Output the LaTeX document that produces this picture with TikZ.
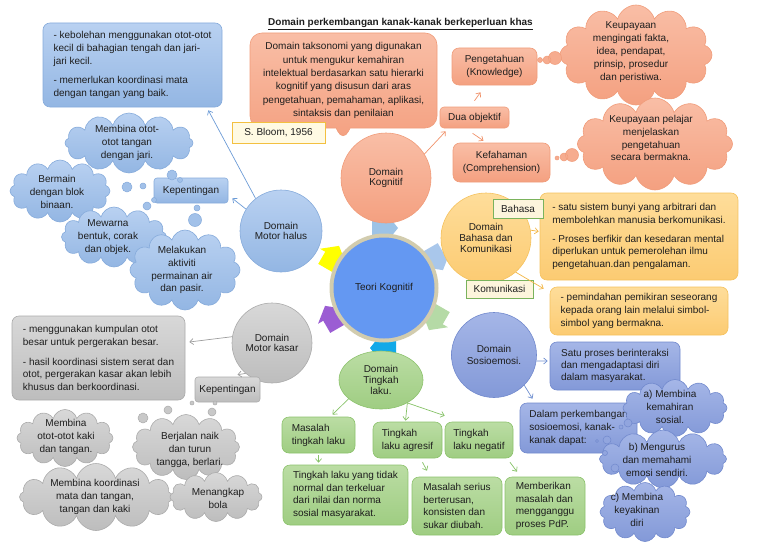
\documentclass[tikz,border=0pt]{standalone}
\usepackage{fontspec}
\setmainfont{Liberation Sans}
\usetikzlibrary{shapes.symbols,shapes.callouts,shapes.geometric,arrows.meta}
\definecolor{txt}{HTML}{1E1E1E}
\definecolor{bluT}{HTML}{B9D1F1}
\definecolor{bluB}{HTML}{93B6E3}
\definecolor{bluD}{HTML}{86ABDB}
\definecolor{orT}{HTML}{F9BEA6}
\definecolor{orB}{HTML}{F4A080}
\definecolor{orD}{HTML}{F09C7A}
\definecolor{grT}{HTML}{D8D8D8}
\definecolor{grB}{HTML}{BDBDBD}
\definecolor{grD}{HTML}{ABABAB}
\definecolor{gnT}{HTML}{BBDDA4}
\definecolor{gnB}{HTML}{9FCD82}
\definecolor{gnD}{HTML}{8CC26C}
\definecolor{ylT}{HTML}{FEDD9A}
\definecolor{ylB}{HTML}{FCCB72}
\definecolor{ylD}{HTML}{F5C25E}
\definecolor{puT}{HTML}{A5B6E7}
\definecolor{puB}{HTML}{8399D8}
\definecolor{puD}{HTML}{7189CD}
\definecolor{bloomF}{HTML}{FFFAE3}
\definecolor{bloomD}{HTML}{F3C040}
\definecolor{tagF}{HTML}{FDF5DC}
\definecolor{tagD}{HTML}{7AB35C}
\definecolor{ringC}{HTML}{D2CCAE}
\definecolor{teoriC}{HTML}{6498F2}
\definecolor{caA}{HTML}{9DC3E6}
\definecolor{caB}{HTML}{A9C7EB}
\definecolor{caC}{HTML}{B5DAA6}
\definecolor{caD}{HTML}{12A9E8}
\definecolor{caE}{HTML}{9B5DD3}
\definecolor{caF}{HTML}{FFFF00}
\definecolor{arBlue}{HTML}{6C9BD6}
\definecolor{arGray}{HTML}{9E9E9E}
\definecolor{arOr}{HTML}{F0926A}
\definecolor{arYl}{HTML}{F2B544}
\definecolor{arPu}{HTML}{6F8FD0}
\definecolor{arGn}{HTML}{86C267}
\begin{document}
\begin{tikzpicture}[x=1pt,y=-1pt,
  every node/.style={font=\fontsize{10}{12.9}\selectfont, text=txt},
  rbox/.style={rounded corners=7pt, line width=0.6pt, inner xsep=0pt, inner ysep=0pt},
  bluebox/.style={rbox, top color=bluT, bottom color=bluB, draw=bluD},
  orbox/.style={rbox, top color=orT, bottom color=orB, draw=orD},
  graybox/.style={rbox, top color=grT, bottom color=grB, draw=grD},
  gnbox/.style={rbox, top color=gnT, bottom color=gnB, draw=gnD},
  ylbox/.style={rbox, top color=ylT, bottom color=ylB, draw=ylD},
  pubox/.style={rbox, top color=puT, bottom color=puB, draw=puD},
  cl/.style={cloud, cloud puffs=12, cloud ignores aspect, line width=0.6pt, inner sep=0pt},
  bluecl/.style={cl, top color=bluT, bottom color=bluB, draw=bluD},
  orcl/.style={cl, top color=orT, bottom color=orB, draw=orD},
  graycl/.style={cl, top color=grT, bottom color=grB, draw=grD},
  pucl/.style={cl, top color=puT, bottom color=puB, draw=puD},
  bluebub/.style={fill=bluB!60!bluT, draw=bluD, line width=0.5pt},
  orbub/.style={fill=orB!60!orT, draw=orD, line width=0.5pt},
  graybub/.style={fill=grB!60!grT, draw=grD, line width=0.5pt},
  pubub/.style={fill=puB!60!puT, draw=puD, line width=0.5pt},
  lbl/.style={align=center, inner sep=0pt},
  dom/.style={circle, line width=0.6pt, align=center, inner sep=0pt, font=\fontsize{10}{10.8}\selectfont},
  arr/.style={line width=0.7pt, -{Straight Barb[length=3.5pt,width=6pt]}},
  tag/.style={rectangle, inner xsep=0pt, inner ysep=0pt, align=left},
]
\useasboundingbox (0,0) rectangle (768,543);

% title
\node[font=\fontsize{10}{12}\selectfont\bfseries] (title) at (400.5,24) {\underline{Domain perkembangan kanak-kanak berkeperluan khas}};

% ---------- central cycle arrows ----------
\foreach \ang/\col in {90/caA, 30/caB, -30/caC, -90/caD, -150/caE, 150/caF} {
  \begin{scope}[shift={(384,288)}, rotate=\ang, xshift=60pt, rotate=-90]
    \fill[\col] (-12,-9) -- (2,-9) -- (2,-15) -- (14,0) -- (2,15) -- (2,9) -- (-12,9) -- cycle;
  \end{scope}
}
\node[circle, minimum size=109pt, fill=ringC, inner sep=0pt] (ring) at (384,288) {};
\node[circle, minimum size=101pt, fill=teoriC, inner sep=0pt] (teori) at (384,288) {Teori Kognitif};

% ---------- Domain Kognitif ----------
\node[rectangle callout, callout absolute pointer={(343,142)}, callout pointer width=14pt,
      rounded corners=12pt, top color=orT, bottom color=orB, draw=orD, line width=0.6pt,
      minimum width=187pt, minimum height=95pt, align=center, inner sep=0pt,
      font=\fontsize{10}{13.3}\selectfont] (kogtext) at (343.5,80.5)
  {Domain taksonomi yang digunakan\\untuk mengukur kemahiran\\intelektual berdasarkan satu hierarki\\kognitif yang disusun dari aras\\pengetahuan, pemahaman, aplikasi,\\sintaksis dan penilaian};
\node[tag, fill=bloomF, draw=bloomD, line width=1pt, minimum width=93pt, minimum height=21pt] (bloom) at (278.5,132.5) {S. Bloom, 1956};

\node[dom, minimum size=90pt, top color=orT, bottom color=orB, draw=orD] (kog) at (386,178) {Domain\\Kognitif};

\node[orbox, rounded corners=4pt, minimum width=69pt, minimum height=21pt] (dua) at (474.5,117.5) {Dua objektif};
\node[orbox, minimum width=85pt, minimum height=37pt, align=center] (peng) at (494.5,66.5) {Pengetahuan\\(Knowledge)};
\node[orbox, minimum width=97pt, minimum height=39pt, align=center] (kef) at (501.5,162.5) {Kefahaman\\(Comprehension)};

\node[orcl, minimum width=152pt, minimum height=100pt] (oc1) at (636,55) {};
\node[lbl] (oc1t) at (631,52) {Keupayaan\\mengingati fakta,\\idea, pendapat,\\prinsip, prosedur\\dan peristiwa.};
\node[orcl, minimum width=155pt, minimum height=92pt] (oc2) at (655,144) {};
\node[lbl] (oc2t) at (651,138) {Keupayaan pelajar\\menjelaskan\\pengetahuan\\secara bermakna.};
\path[orbub] (540,60) circle (2.5pt) (547,60) circle (4pt) (555,58) circle (6.5pt);
\path[orbub] (557,158) circle (2pt) (564,157) circle (4pt) (572,155) circle (6.5pt);

\draw[arr, arOr] (kog.32) -- ([shift={(6,3)}]dua.south west);
\draw[arr, arOr] ([shift={(0,-6)}]dua.north) -- ([shift={(-14,7)}]peng.south);
\draw[arr, arOr] ([shift={(-2,5)}]dua.south) -- ([shift={(-18,-2)}]kef.north);

% ---------- Domain Motor halus ----------
\node[bluebox, minimum width=179pt, minimum height=84pt, align=left] (hbox) at (132.5,65)
  {- kebolehan menggunakan otot-otot\\kecil di bahagian tengah dan jari-\\jari kecil.\\[6pt]- memerlukan koordinasi mata\\dengan tangan yang baik.};
\node[dom, minimum size=82pt, top color=bluT, bottom color=bluB, draw=bluD] (halus) at (281,231) {Domain\\Motor halus};

\node[bluecl, minimum width=128pt, minimum height=60pt] (bc1) at (129,143) {};
\node[lbl] (bc1t) at (127,143) {Membina otot-\\otot tangan\\dengan jari.};
\node[bluecl, minimum width=100pt, minimum height=62pt] (bc2) at (60,191) {};
\node[lbl] (bc2t) at (57,192) {Bermain\\dengan blok\\binaan.};
\node[bluecl, minimum width=105pt, minimum height=60pt] (bc3) at (114,237) {};
\node[lbl] (bc3t) at (108,237) {Mewarna\\bentuk, corak\\dan objek.};
\node[bluecl, minimum width=110pt, minimum height=80pt] (bc4) at (185,270) {};
\node[lbl] (bc4t) at (182,270) {Melakukan\\aktiviti\\permainan air\\dan pasir.};
\node[bluebox, rounded corners=3pt, minimum width=74pt, minimum height=25pt] (kepb) at (191,190.5) {Kepentingan};
\path[bluebub] (127,187) circle (5pt) (143,186) circle (3pt) (172,175) circle (5pt) (180,180) circle (2.5pt)
  (154,200) circle (2.5pt) (147,206) circle (4pt) (197,208) circle (3pt) (195,220) circle (6.5pt);

\draw[arr, arBlue] (halus.128) -- ([shift={(-14,3)}]hbox.south east);
\draw[arr, arBlue] (halus.148) -- ([shift={(4,-5)}]kepb.south east);

% ---------- Domain Motor kasar ----------
\node[graybox, minimum width=173pt, minimum height=84pt, align=left] (gbox) at (98.5,358)
  {- menggunakan kumpulan otot\\besar untuk pergerakan besar.\\[7pt]- hasil koordinasi sistem serat dan\\otot, pergerakan kasar akan lebih\\khusus dan berkoordinasi.};
\node[dom, minimum size=80pt, top color=grT, bottom color=grB, draw=grD] (kasar) at (272,343) {Domain\\Motor kasar};
\node[graybox, rounded corners=3pt, minimum width=65pt, minimum height=25pt] (kepg) at (227.5,389.5) {Kepentingan};

\node[graycl, minimum width=96pt, minimum height=57pt] (gc1) at (65,438) {};
\node[lbl] (gc1t) at (66,437) {Membina\\otot-otot kaki\\dan tangan.};
\node[graycl, minimum width=107pt, minimum height=65pt] (gc2) at (186,447) {};
\node[lbl] (gc2t) at (190,450) {Berjalan naik\\dan turun\\tangga, berlari.};
\node[graycl, minimum width=153pt, minimum height=67pt] (gc3) at (96,497) {};
\node[lbl] (gc3t) at (95,497) {Membina koordinasi\\mata dan tangan,\\tangan dan kaki};
\node[graycl, minimum width=92pt, minimum height=49pt] (gc4) at (216,497) {};
\node[lbl] (gc4t) at (218,498) {Menangkap\\bola};
\path[graybub] (168,410) circle (4pt) (143,418) circle (5pt) (192,403) circle (2pt) (212,412) circle (4pt) (215,403) circle (2pt);

\draw[arr, arGray] (kasar.171) -- ([shift={(4,-16)}]gbox.east);
\draw[arr, arGray] (kasar.229) -- ([shift={(10,-2)}]kepg.north);

% ---------- Domain Tingkah laku ----------
\node[ellipse, minimum width=84pt, minimum height=58pt, line width=0.6pt, align=center, inner sep=0pt,
      top color=gnT, bottom color=gnB, draw=gnD, font=\fontsize{10}{11}\selectfont] (tk) at (381,380) {Domain\\Tingkah\\laku.};
\node[gnbox, minimum width=73pt, minimum height=36pt, align=left] (masalah) at (318.5,435) {Masalah\\tingkah laku};
\node[gnbox, minimum width=69pt, minimum height=36pt, align=left] (agr) at (407.5,440) {Tingkah\\laku agresif};
\node[gnbox, minimum width=68pt, minimum height=36pt, align=left] (neg) at (479,440) {Tingkah\\laku negatif};
\node[gnbox, minimum width=125pt, minimum height=60pt, align=left, font=\fontsize{10}{12.4}\selectfont] (tidak) at (345.5,495) {Tingkah laku yang tidak\\normal dan terkeluar\\dari nilai dan norma\\sosial masyarakat.};
\node[gnbox, minimum width=90pt, minimum height=58pt, align=left, font=\fontsize{10}{12.6}\selectfont] (serius) at (457,506) {Masalah serius\\berterusan,\\konsisten dan\\sukar diubah.};
\node[gnbox, minimum width=80pt, minimum height=58pt, align=left, font=\fontsize{10}{12.6}\selectfont] (member) at (545,506) {Memberikan\\masalah dan\\mengganggu\\proses PdP.};

\draw[arr, arGn] (tk.210) -- ([shift={(14,-2)}]masalah.north);
\draw[arr, arGn] (tk.-41) -- ([shift={(-2,-1)}]agr.north);
\draw[arr, arGn] (tk.-41) -- ([shift={(0,-6)}]neg.north west);
\draw[arr, arGn] ([shift={(0,2)}]masalah.south) -- ([shift={(-27,-2)}]tidak.north);
\draw[arr, arGn] ([shift={(15,4)}]agr.south) -- ([shift={(-30,-6)}]serius.north);
\draw[arr, arGn] ([shift={(31,4)}]neg.south) -- ([shift={(-28,-5)}]member.north);

% ---------- Domain Bahasa dan Komunikasi ----------
\node[ylbox, minimum width=198pt, minimum height=87pt, align=left] (bbox1) at (639,236.5)
  {- satu sistem bunyi yang arbitrari dan\\membolehkan manusia berkomunikasi.\\[6pt]- Proses berfikir dan kesedaran mental\\diperlukan untuk pemerolehan ilmu\\pengetahuan.dan pengalaman.};
\node[ylbox, minimum width=178pt, minimum height=48pt, align=left] (bbox2) at (639,311)
  {- pemindahan pemikiran seseorang\\kepada orang lain melalui simbol-\\simbol yang bermakna.};
\node[dom, minimum size=90pt, top color=ylT, bottom color=ylB, draw=ylD] (bah) at (486,238) {Domain\\Bahasa dan\\Komunikasi};
\node[tag, fill=tagF, draw=tagD, line width=0.9pt, minimum width=50pt, minimum height=19pt] (tbah) at (518,208.5) {Bahasa};
\node[tag, fill=tagF, draw=tagD, line width=0.9pt, minimum width=67pt, minimum height=18pt] (tkom) at (499.5,289) {Komunikasi};

\draw[arr, arYl] (bah.10) -- ([shift={(-1,-5)}]bbox1.west);
\draw[arr, arYl] (bah.-49) -- ([shift={(-6,2)}]bbox2.north west);

% ---------- Domain Sosioemosi ----------
\node[dom, minimum size=85pt, top color=puT, bottom color=puB, draw=puD, font=\fontsize{10}{12}\selectfont] (sos) at (494,355) {Domain\\Sosioemosi.};
\node[pubox, minimum width=130pt, minimum height=48pt, align=left, font=\fontsize{10}{12.4}\selectfont] (satu) at (615,366) {Satu proses berinteraksi\\dan mengadaptasi diri\\dalam masyarakat.};
\node[pubox, minimum width=117pt, minimum height=50pt, align=left] (dalam) at (578.5,428) {Dalam perkembangan\\sosioemosi, kanak-\\kanak dapat:};

\node[pucl, minimum width=104pt, minimum height=57pt] (pc1) at (675,408) {};
\node[lbl] (pc1t) at (670,407) {a) Membina\\kemahiran\\sosial.};
\node[pucl, minimum width=127pt, minimum height=58pt] (pc2) at (663,459) {};
\node[lbl] (pc2t) at (657,460) {b) Mengurus\\dan memahami\\emosi sendiri.};
\node[pucl, minimum width=90pt, minimum height=59pt] (pc3) at (645,512) {};
\node[lbl] (pc3t) at (637,510) {c) Membina\\keyakinan\\diri};
\path[pubub] (628,423) circle (4pt) (621,427) circle (2pt) (607,440) circle (4pt) (597,441) circle (1.5pt)
  (605,453) circle (2.5pt) (615,468) circle (4pt);

\draw[arr, arPu] (sos.-8) -- ([shift={(-2,-5)}]satu.west);
\draw[arr, arPu] (sos.-45) -- ([shift={(-46,-4)}]dalam.north);

\end{tikzpicture}
\end{document}
